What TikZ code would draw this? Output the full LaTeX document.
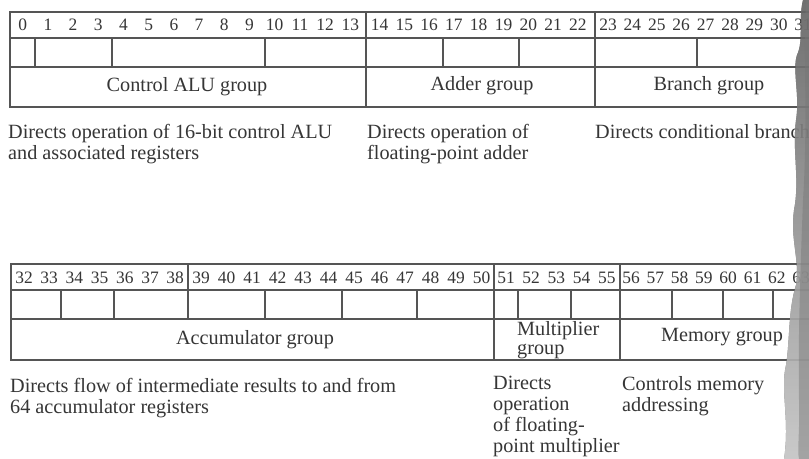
\documentclass[tikz,border=0pt]{standalone}
\usepackage{fontspec}
\setmainfont{Liberation Serif}
\definecolor{ink}{HTML}{363636}
\definecolor{rulecol}{HTML}{555555}
\definecolor{shade}{HTML}{A8A8A8}
\begin{document}
\begin{tikzpicture}[x=1bp,y=-1bp,
  rule/.style={draw=rulecol, line width=1.5bp},
  bitnum/.style={font=\fontsize{17.5}{17.5}\selectfont, text=ink, inner sep=0pt},
  grouplabel/.style={font=\fontsize{20.3}{21}\selectfont, text=ink, inner sep=0pt},
  note/.style={font=\fontsize{20.3}{21}\selectfont, text=ink, inner sep=0pt,
               align=left, anchor=north west},
]
\useasboundingbox (0,0) rectangle (809,459);
\fill[white] (0,0) rectangle (809,459);
\begin{scope}
\clip (0,0) rectangle (809,459);

% ---------- word 1: bits 0--31 ----------
\draw[rule] (10,12) rectangle (830,107);
\draw[rule] (10,38) -- (830,38);
\draw[rule] (10,67) -- (830,67);
\draw[rule] (366,12) -- (366,107);
\draw[rule] (595,12) -- (595,107);
\foreach \x in {35,112,265,443,519,697}
  \draw[rule] (\x,38) -- (\x,67);
\foreach \b in {0,...,13}
  \node[bitnum] (t\b) at ({22.7+25.2*\b},25) {\b};
\foreach \b in {14,...,22}
  \node[bitnum] (t\b) at ({379.5+24.8*(\b-14)},25) {\b};
\foreach \b in {23,...,31}
  \node[bitnum] (t\b) at ({608+24.4*(\b-23)},25) {\b};

\node[grouplabel] (alu) at (187,87) {Control ALU group};
\node[grouplabel] (adder) at (482,86) {Adder group};
\node[grouplabel] (branch) at (709,86) {Branch group};

\node[note] (alunote) at (8,124)
  {Directs operation of 16-bit control ALU\\and associated registers};
\node[note] (addernote) at (367,124)
  {Directs operation of\\floating-point adder};
\node[note] (branchnote) at (595,124) {Directs conditional branches};

% ---------- word 2: bits 32--63 ----------
\draw[rule] (11,264) rectangle (830,360);
\draw[rule] (11,290) -- (830,290);
\draw[rule] (11,319) -- (830,319);
\draw[rule] (188,264) -- (188,319);
\foreach \x in {494,620}
  \draw[rule] (\x,264) -- (\x,360);
\foreach \x in {61,114,265,342,417,518,571,672,723,773}
  \draw[rule] (\x,290) -- (\x,319);
\foreach \b in {32,...,38}
  \node[bitnum] (b\b) at ({24+25.2*(\b-32)},278) {\b};
\foreach \b in {39,...,50}
  \node[bitnum] (b\b) at ({201+25.5*(\b-39)},278) {\b};
\foreach \b in {51,...,55}
  \node[bitnum] (b\b) at ({506+25.2*(\b-51)},278) {\b};
\foreach \b in {56,...,63}
  \node[bitnum] (b\b) at ({631+24.3*(\b-56)},278) {\b};

\node[grouplabel] (acc) at (255,340) {Accumulator group};
\node[grouplabel, align=left, anchor=west, font=\fontsize{20.3}{19.5}\selectfont]
  (mult) at (517,340) {Multiplier\\group};
\node[grouplabel] (mem) at (722,337) {Memory group};

\node[note] (accnote) at (10,378)
  {Directs flow of intermediate results to and from\\64 accumulator registers};
\node[note] (multnote) at (493,376)
  {Directs\\operation\\of floating-\\point multiplier};
\node[note] (memnote) at (622,376) {Controls memory\\addressing};

% ---------- shadow along the right edge of the page ----------
\fill[shade, opacity=0.7]
  (809,0) -- (803,0) .. controls (798,20) and (804,40) .. (797,55)
  .. controls (792,70) and (800,95) .. (796,120)
  .. controls (792,150) and (800,180) .. (794,210)
  .. controls (790,240) and (800,260) .. (796,285)
  .. controls (788,310) and (790,340) .. (786,365)
  .. controls (780,390) and (790,420) .. (784,459)
  -- (809,459) -- cycle;
\fill[shade!70!black, opacity=0.45]
  (809,0) -- (806,0) .. controls (803,60) and (808,120) .. (803,200)
  .. controls (800,280) and (798,340) .. (799,400)
  .. controls (800,430) and (797,450) .. (799,459)
  -- (809,459) -- cycle;
\end{scope}
\end{tikzpicture}
\end{document}
